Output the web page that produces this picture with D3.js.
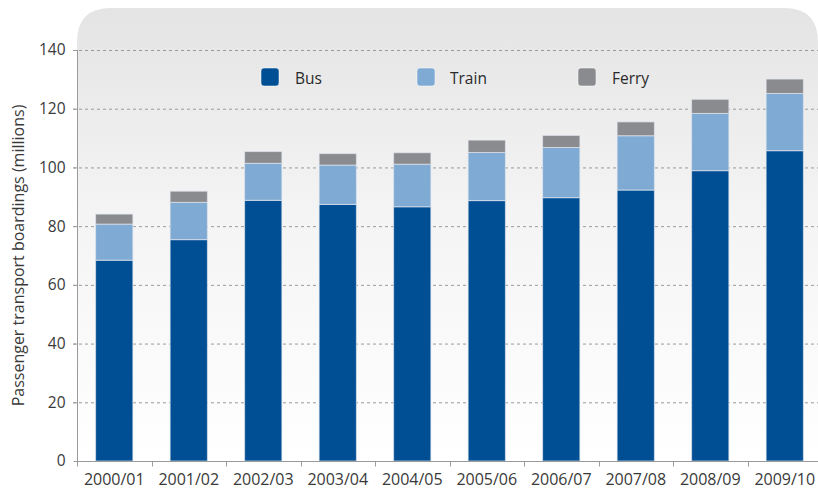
<!DOCTYPE html>
<html>
<head>
<meta charset="utf-8">
<script src="https://cdn.jsdelivr.net/npm/d3@7"></script>
<style>
html,body{margin:0;padding:0;background:#fff;}
svg{display:block;font-family:"Open Sans","Noto Sans",sans-serif;}
</style>
</head>
<body>
<svg id="chart" width="818" height="493"></svg>
<script>
const categories = ["2000/01","2001/02","2002/03","2003/04","2004/05","2005/06","2006/07","2007/08","2008/09","2009/10"];
const bus   = [68.4, 75.4, 88.8, 87.4, 86.6, 88.7, 89.7, 92.3, 98.9, 105.7];
const train = [12.3, 12.7, 12.6, 13.4, 14.5, 16.4, 17.1, 18.5, 19.5, 19.5];
const ferry = [3.4, 3.8, 4.0, 3.9, 3.9, 4.2, 4.1, 4.7, 4.8, 4.9];
const seriesNames = ["Bus","Train","Ferry"];
const seriesColors = ["#004f95","#7faad3","#8a8b8f"];
const yTicks = [0,20,40,60,80,100,120,140];
const yLabel = "Passenger transport boardings (millions)";

const svg = d3.select("#chart");
const W = 818, H = 493;
const m = {left:77, right:-4, top:50, bottom:32};
const x0 = m.left, x1 = W - m.right, y0 = m.top, y1 = H - m.bottom;

// background panel
const defs = svg.append("defs");
const grad = defs.append("linearGradient").attr("id","bg").attr("x1",0).attr("y1",0).attr("x2",0).attr("y2",1);
grad.append("stop").attr("offset","0%").attr("stop-color","#e4e4e4");
grad.append("stop").attr("offset","45%").attr("stop-color","#f4f4f4");
grad.append("stop").attr("offset","100%").attr("stop-color","#ffffff");
const pTop = 8, pR = 34, pLeft = x0, pRight = 818;
svg.append("path")
  .attr("d", `M${pLeft},${y1} L${pLeft},${pTop+pR} Q${pLeft},${pTop} ${pLeft+pR},${pTop} L${pRight-pR},${pTop} Q${pRight},${pTop} ${pRight},${pTop+pR} L${pRight},${y1} Z`)
  .attr("fill","url(#bg)");

const x = d3.scaleBand().domain(categories).range([x0, x1]).paddingInner(0.5).paddingOuter(0.25);
const y = d3.scaleLinear().domain([0,140]).range([y1, y0]);

// gridlines
svg.append("g").selectAll("line").data(yTicks.filter(d=>d>0)).join("line")
  .attr("x1", x0-4).attr("x2", W).attr("y1", d=>y(d)+0.5).attr("y2", d=>y(d)+0.5)
  .attr("stroke","#9a9a9a").attr("stroke-width",1).attr("stroke-dasharray","3,3");

// bars
const rows = categories.map((c,i)=>({cat:c, Bus:bus[i], Train:train[i], Ferry:ferry[i]}));
const stacked = d3.stack().keys(seriesNames)(rows);
svg.append("g").selectAll("g").data(stacked).join("g")
  .attr("fill",(d,i)=>seriesColors[i])
  .selectAll("rect").data(d=>d).join("rect")
  .attr("x", d=>x(d.data.cat))
  .attr("width", x.bandwidth())
  .attr("y", d=>y(d[1]))
  .attr("height", d=>y(d[0])-y(d[1]))
  .attr("stroke","rgba(225,230,238,0.7)").attr("stroke-width",1);

// y axis
const yAxis = d3.axisLeft(y).tickValues(yTicks).tickSize(4).tickPadding(8);
const gy = svg.append("g").attr("transform",`translate(${x0+0.5},0)`).call(yAxis);
gy.select(".domain").attr("stroke","#9a9a9a").attr("d",`M0,${y(140)}V${y1}`);
gy.selectAll(".tick line").attr("stroke","#9a9a9a");
gy.selectAll(".tick text").attr("fill","#3a3a3a").style("font-size","15.5px").style("font-family","'Open Sans',sans-serif");

// x axis
const xAxis = d3.axisBottom(x).tickSize(0).tickPadding(12);
const gx = svg.append("g").attr("transform",`translate(0,${y1+0.5})`).call(xAxis);
gx.select(".domain").attr("stroke","#9a9a9a").attr("d",`M${x0},0H${W}`);
gx.selectAll(".tick text").attr("fill","#3a3a3a").style("font-size","16px").style("font-family","'Open Sans',sans-serif");
// band boundary ticks
const bounds = categories.map(c=>x(c) - x.step()*x.paddingInner()/2);
gx.append("g").selectAll("line").data(bounds).join("line")
  .attr("x1",d=>Math.round(d)+0.5).attr("x2",d=>Math.round(d)+0.5).attr("y1",0).attr("y2",5)
  .attr("stroke","#9a9a9a");

// y label
svg.append("text")
  .attr("transform",`translate(24,${(y0+y1)/2}) rotate(-90)`)
  .attr("text-anchor","middle")
  .attr("fill","#3a3a3a").style("font-size","16px")
  .text(yLabel);

// legend
const legX = [261, 417, 578];
const lg = svg.append("g").selectAll("g").data(seriesNames).join("g")
  .attr("transform",(d,i)=>`translate(${legX[i]},68)`);
lg.append("rect").attr("width",18).attr("height",18).attr("rx",3)
  .attr("fill",(d,i)=>seriesColors[i]).attr("stroke","rgba(255,255,255,0.5)");
lg.append("text").attr("x",(d,i)=>[34,33,34][i]).attr("y",16)
  .attr("fill","#2a2a2a").style("font-size","15.5px").text(d=>d);
</script>
</body>
</html>
